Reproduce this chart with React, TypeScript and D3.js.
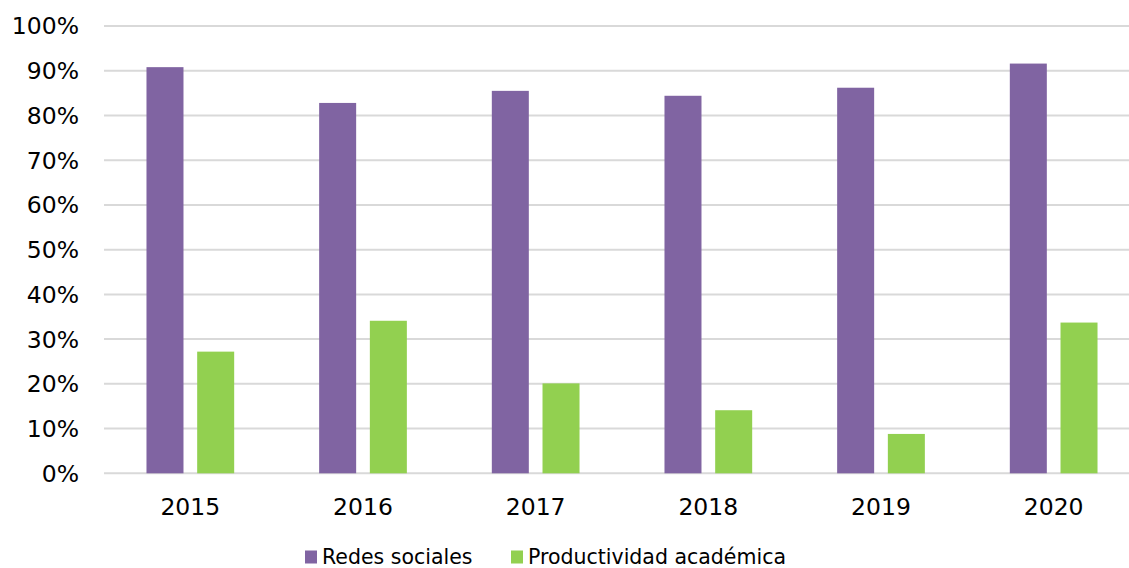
import React, { useRef, useEffect } from 'react'
import * as d3 from 'd3'

const years = ['2015', '2016', '2017', '2018', '2019', '2020']
const redesSociales = [0.908, 0.828, 0.855, 0.844, 0.862, 0.916]
const productividad = [0.272, 0.341, 0.201, 0.141, 0.088, 0.337]
const seriesNames = ['Redes sociales', 'Productividad académica']
const colors = ['#8064A2', '#92D050']
const yTicks = [0, 0.1, 0.2, 0.3, 0.4, 0.5, 0.6, 0.7, 0.8, 0.9, 1]

const W = 1129
const H = 568
const font = '"DejaVu Sans", Verdana, sans-serif'

const App = () => {
    const chartRef = useRef<SVGSVGElement>(null)

    useEffect(() => {
        if (!chartRef.current) return
        const svg = d3.select(chartRef.current)
        svg.selectAll('*').remove()

        const left = 104, right = 1140, top = 26, bottom = 473.3

        const x = d3.scaleBand().domain(years).range([left, right])
        const inner = d3.scaleBand().domain(seriesNames).range([0, 87.7]).paddingInner(0.27)
        const y = d3.scaleLinear().domain([0, 1]).range([bottom, top])

        // gridlines
        svg.append('g')
            .selectAll('line')
            .data(yTicks)
            .join('line')
            .attr('x1', left)
            .attr('x2', W)
            .attr('y1', d => y(d))
            .attr('y2', d => y(d))
            .attr('stroke', '#D9D9D9')
            .attr('stroke-width', 2)

        // y labels
        svg.append('g')
            .selectAll('text')
            .data(yTicks)
            .join('text')
            .attr('x', 79)
            .attr('y', d => y(d))
            .attr('dy', '0.36em')
            .attr('text-anchor', 'end')
            .attr('font-family', font)
            .attr('font-size', 23.5)
            .attr('fill', '#000')
            .text(d => d3.format('.0%')(d))

        const table = years.map((yr, i) => ({ yr, values: [redesSociales[i], productividad[i]] }))
        const groupOffset = (x.bandwidth() - 87.7) / 2

        const groups = svg.append('g')
            .selectAll('g')
            .data(table)
            .join('g')
            .attr('transform', d => `translate(${(x(d.yr) ?? 0) + groupOffset},0)`)

        groups.selectAll('rect')
            .data(d => d.values.map((v, j) => ({ v, name: seriesNames[j], j })))
            .join('rect')
            .attr('x', d => inner(d.name) ?? 0)
            .attr('width', inner.bandwidth())
            .attr('y', d => y(d.v))
            .attr('height', d => bottom - y(d.v))
            .attr('fill', d => colors[d.j])

        // x labels
        svg.append('g')
            .selectAll('text')
            .data(years)
            .join('text')
            .attr('x', d => (x(d) ?? 0) + x.bandwidth() / 2)
            .attr('y', 514.5)
            .attr('text-anchor', 'middle')
            .attr('font-family', font)
            .attr('font-size', 23.5)
            .attr('fill', '#000')
            .text(d => d)

        // legend
        const legendX = [305, 511]
        const legend = svg.append('g')
            .selectAll('g')
            .data(seriesNames)
            .join('g')
            .attr('transform', (_, i) => `translate(${legendX[i]},0)`)
        legend.append('rect')
            .attr('x', 0)
            .attr('y', 550.5)
            .attr('width', 12)
            .attr('height', 13)
            .attr('fill', (_, i) => colors[i])
        legend.append('text')
            .attr('x', 17)
            .attr('y', 563.5)
            .attr('font-family', font)
            .attr('font-size', 20.5)
            .attr('fill', '#000')
            .text(d => d)
    }, [])

    return (
        <svg
            ref={chartRef}
            width={W}
            height={H}
            style={{ position: 'fixed', left: 0, top: 0, background: '#fff' }}
        />
    )
}

export default App
